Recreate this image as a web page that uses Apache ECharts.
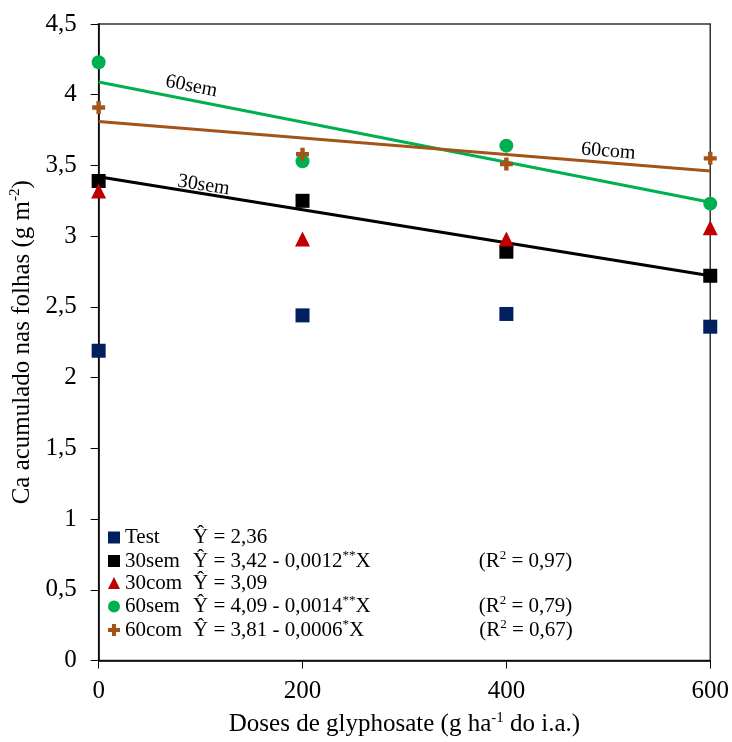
<!DOCTYPE html>
<html><head><meta charset="utf-8">
<script src="https://cdn.jsdelivr.net/npm/echarts@6/dist/echarts.min.js"></script>
<style>html,body{margin:0;padding:0;background:#fff}#c{width:732px;height:742px}</style>
</head><body><div id="c"></div>
<script>
const doses = [0, 200, 400, 600];
const seriesNames = ['Test', '30sem', '30com', '60sem', '60com'];
const testVals = [2.19, 2.44, 2.45, 2.36];
const sem30Vals = [3.39, 3.25, 2.89, 2.72];
const com30Vals = [3.32, 2.98, 2.98, 3.06];
const sem60Vals = [4.23, 3.53, 3.64, 3.23];
const com60Vals = [3.91, 3.58, 3.51, 3.55];
const fitX = [0, 600];
const fit30sem = [3.42, 2.72];
const fit60sem = [4.09, 3.24];
const fit60com = [3.81, 3.46];
const eqMain = ['Ŷ = 2,36', 'Ŷ = 3,42 - 0,0012', 'Ŷ = 3,09', 'Ŷ = 4,09 - 0,0014', 'Ŷ = 3,81 - 0,0006'];
const eqSup = ['', '**', '', '**', '*'];
const eqTail = ['', 'X', '', 'X', 'X'];
const r2Texts = ['', '0,97', '', '0,79', '0,67'];

const FONT = 'Liberation Serif';
const colors = ['#002060', '#000000', '#C00000', '#00B050', '#A35418'];
const plusPath = 'path://M3.3,0H6.7V3.3H10V6.7H6.7V10H3.3V6.7H0V3.3H3.3Z';
const symbols = ['rect', 'rect', 'triangle', 'circle', plusPath];
const sizes = [14, 14, 15, 14, 13];
const valsAll = [testVals, sem30Vals, com30Vals, sem60Vals, com60Vals];

const pairs = (xs, ys) => xs.map((x, i) => [x, ys[i]]);

const scatterSeries = seriesNames.map((n, i) => ({
  name: n, type: 'scatter', data: pairs(doses, valsAll[i]),
  symbol: symbols[i], symbolSize: sizes[i], clip: false, z: 5,
  itemStyle: { color: colors[i], opacity: 1 }
}));

function fitSeries(name, vals, color, lbl) {
  return {
    name: name + '_fit', type: 'line', data: pairs(fitX, vals), symbol: 'none',
    lineStyle: { color: color, width: 3 }, z: 3, silent: true,
    markPoint: {
      symbol: 'circle', symbolSize: 1, itemStyle: { color: 'rgba(0,0,0,0)' },
      label: { show: true, position: 'inside', formatter: name, rotate: lbl.r,
        fontFamily: FONT, fontSize: 20, color: '#000' },
      data: [{ coord: lbl.c }]
    }
  };
}

const ctx = document.createElement('canvas').getContext('2d');
function tw(t, size) { ctx.font = size + 'px "' + FONT + '"'; return ctx.measureText(t).width; }
const EQ_COL = 286;

const eqMap = {};
seriesNames.forEach((n, i) => { eqMap[n] = i; });

const chart = echarts.init(document.getElementById('c'), null, { renderer: 'canvas' });
chart.setOption({
  animation: false,
  grid: { left: 98, right: 20, top: 24, bottom: 80, show: true, borderColor: '#333', borderWidth: 1.5 },
  xAxis: {
    type: 'value', min: 0, max: 600, interval: 200,
    name: '{a|Doses de glyphosate (g ha}{s|-1}{a| do i.a.)}', nameLocation: 'middle', nameGap: 50,
    nameTextStyle: { rich: { a: { fontFamily: FONT, fontSize: 25, color: '#000', lineHeight: 28 },
      s: { fontFamily: FONT, fontSize: 15, color: '#000', verticalAlign: 'top', lineHeight: 28 } } },
    axisLine: { show: true, lineStyle: { color: '#000', width: 1.5 } },
    axisTick: { show: true, inside: false, length: 8, lineStyle: { color: '#000' } },
    axisLabel: { fontFamily: FONT, fontSize: 25, color: '#000', margin: 18 },
    splitLine: { show: false }
  },
  yAxis: {
    type: 'value', min: 0, max: 4.5, interval: 0.5,
    name: '{a|Ca acumulado nas folhas (g m}{s|-2}{a|)}', nameLocation: 'middle', nameGap: 55, nameRotate: 90,
    nameTextStyle: { rich: { a: { fontFamily: FONT, fontSize: 25, color: '#000', lineHeight: 28 },
      s: { fontFamily: FONT, fontSize: 15, color: '#000', verticalAlign: 'top', lineHeight: 28 } } },
    axisLine: { show: true, lineStyle: { color: '#000', width: 1.5 } },
    axisTick: { show: true, inside: false, length: 8, lineStyle: { color: '#000' } },
    axisLabel: { fontFamily: FONT, fontSize: 25, color: '#000', margin: 22,
      formatter: v => String(v).replace('.', ',') },
    splitLine: { show: false }
  },
  legend: {
    orient: 'vertical', left: 103, top: 522, itemGap: 1, itemWidth: 12, itemHeight: 12,
    data: seriesNames.map(n => ({ name: n })),
    formatter: n => {
      const i = eqMap[n];
      let s = '{n|' + n + '}{e|' + eqMain[i] + '}';
      let w = tw(eqMain[i], 21);
      if (eqSup[i]) { s += '{sup|' + eqSup[i] + '}'; w += tw(eqSup[i], 13); }
      if (eqTail[i]) { s += '{e|' + eqTail[i] + '}'; w += tw(eqTail[i], 21); }
      if (r2Texts[i]) {
        const g = Math.max(4, Math.round(EQ_COL - w));
        s += '{g' + g + '|}{e|(R}{sup|2}{e| = ' + r2Texts[i] + ')}';
      }
      return s;
    },
    textStyle: { fontFamily: FONT, fontSize: 21, color: '#000',
      rich: (() => {
        const r = {
          n: { fontFamily: FONT, fontSize: 21, color: '#000', width: 68, lineHeight: 24 },
          e: { fontFamily: FONT, fontSize: 21, color: '#000', lineHeight: 24 },
          sup: { fontFamily: FONT, fontSize: 13, color: '#000', verticalAlign: 'top', lineHeight: 24 }
        };
        for (let k = 0; k <= 300; k++) r['g' + k] = { width: k, lineHeight: 24 };
        return r;
      })() }
  },
  series: scatterSeries.concat([
    fitSeries('30sem', fit30sem, '#000000', { c: [103, 3.36], r: -9 }),
    fitSeries('60sem', fit60sem, '#00B050', { c: [91, 4.06], r: -11 }),
    fitSeries('60com', fit60com, '#A35418', { c: [500, 3.60], r: -4.5 })
  ])
});
</script></body></html>
